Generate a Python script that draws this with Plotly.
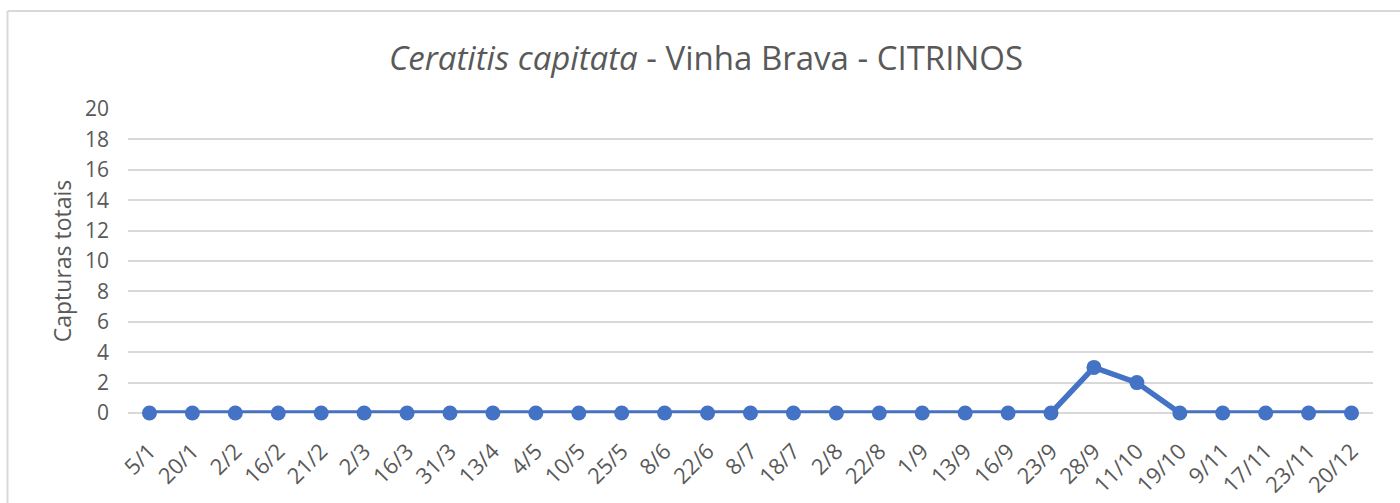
import plotly.graph_objects as go

categories = ["5/1", "20/1", "2/2", "16/2", "21/2", "2/3", "16/3", "31/3", "13/4", "4/5",
              "10/5", "25/5", "8/6", "22/6", "8/7", "18/7", "2/8", "22/8", "1/9", "13/9",
              "16/9", "23/9", "28/9", "11/10", "19/10", "9/11", "17/11", "23/11", "20/12"]
values = [0, 0, 0, 0, 0, 0, 0, 0, 0, 0,
          0, 0, 0, 0, 0, 0, 0, 0, 0, 0,
          0, 0, 3, 2, 0, 0, 0, 0, 0]
y_ticks = list(range(0, 21, 2))

W, H = 1400, 503
L, R, T, B = 128, 27, 109, 90
pw, ph = W - L - R, H - T - B

fig = go.Figure()
fig.add_trace(go.Scatter(
    x=categories, y=values, mode="lines+markers",
    line=dict(color="#4472C4", width=5.5),
    marker=dict(color="#4472C4", size=15),
    cliponaxis=False, showlegend=False,
))

def px2paper_x(px):
    return (px - L) / pw

def px2paper_y(py):
    return (H - B - py) / ph

fig.update_layout(
    width=W, height=H,
    margin=dict(l=L, r=R, t=T, b=B, autoexpand=False),
    paper_bgcolor="white", plot_bgcolor="white",
    font=dict(family="Open Sans, Liberation Sans, sans-serif", color="#595959"),
    title=dict(
        text="<i>Ceratitis capitata</i> - Vinha Brava - CITRINOS",
        x=706 / W, xanchor="center", xref="container",
        y=1 - 58 / H, yanchor="middle", yref="container",
        font=dict(size=33, color="#595959"),
    ),
    xaxis=dict(
        type="category", range=[-0.5, len(categories) - 0.5],
        tickangle=-45, tickfont=dict(size=22, color="#595959"),
        showgrid=False, showline=False, zeroline=False, ticks="", ticklabelstandoff=20,
    ),
    yaxis=dict(
        range=[0, 20], tickvals=y_ticks, showgrid=True, gridcolor="#d9d9d9", gridwidth=1.5,
        zeroline=True, zerolinecolor="#d9d9d9", zerolinewidth=1.5,
        tickfont=dict(size=21, color="#595959"), ticks="", ticklabelstandoff=18,
        title=dict(text="Capturas totais", font=dict(size=23, color="#595959"), standoff=6),
    ),
    shapes=[
        dict(type="line", xref="paper", yref="paper",
             x0=px2paper_x(7.5), x1=px2paper_x(7.5), y0=px2paper_y(11), y1=px2paper_y(510),
             line=dict(color="#d9d9d9", width=2)),
        dict(type="line", xref="paper", yref="paper",
             x0=px2paper_x(7.5), x1=px2paper_x(1410), y0=px2paper_y(11), y1=px2paper_y(11),
             line=dict(color="#d9d9d9", width=2)),
    ],
)

fig.write_html("out.html", config={"displayModeBar": False},
               post_script="document.body.style.margin='0';document.body.style.overflow='hidden';")
